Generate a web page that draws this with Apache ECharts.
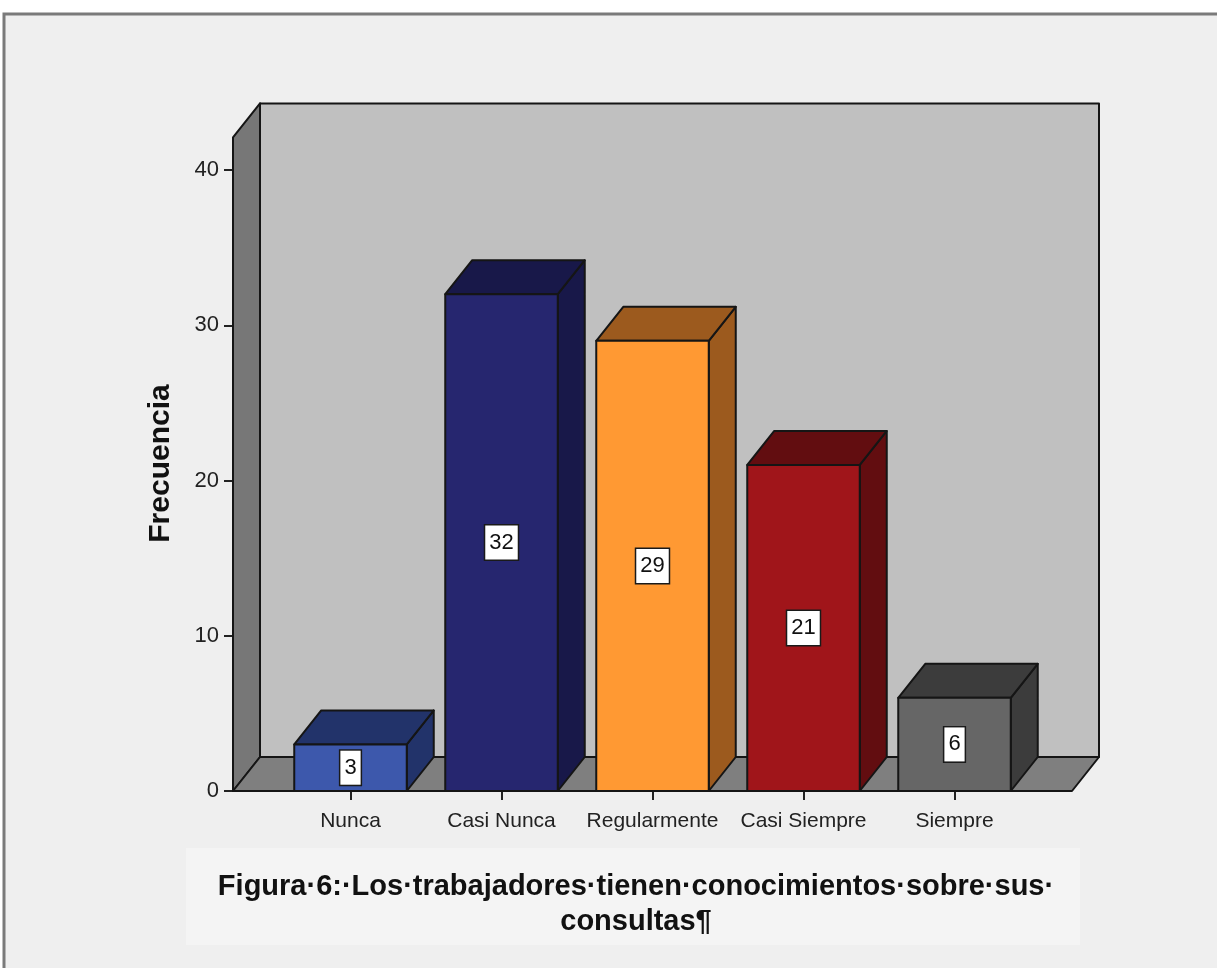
<!DOCTYPE html>
<html>
<head>
<meta charset="utf-8">
<title>Figura 6</title>
<script src="https://cdn.jsdelivr.net/npm/echarts@6/dist/echarts.min.js"></script>
<style>
  html, body { margin: 0; padding: 0; background: #ffffff; }
  #chart { width: 1217px; height: 968px; }
</style>
</head>
<body>
<div id="chart"></div>
<script>
// Answer categories and how many workers chose each one
const categories = ['Nunca', 'Casi Nunca', 'Regularmente', 'Casi Siempre', 'Siempre'];
const frequencies = [3, 32, 29, 21, 6];

// Front-face colour and darker side/top colour for each bar
const faceColors = ['#3D58AC', '#26266F', '#FF9933', '#A0151A', '#666666'];
const shadeColors = ['#22336A', '#181849', '#9C5A1E', '#620D10', '#3C3C3C'];

// Value axis settings
const yMax = 40;
const yStep = 10;
const wallTop = 42.1;          // height of the box walls, in axis units

const captionText = 'Figura·6:·Los·trabajadores·tienen·conocimientos·sobre·sus·\nconsultas¶';

// 3D look: depth offset of the box and bars, in pixels
const DX = 27;
const DY = -34;
const SIDE_MARGIN = 42;        // floor extends this far beyond the category band
const BAR_RATIO = 0.745;
const EDGE = { stroke: '#151515', lineWidth: 2, lineJoin: 'round' };
const FONT = "'Liberation Sans', Arial, sans-serif";

function renderWalls(params, api) {
  const cs = params.coordSys;
  const y0 = api.coord([0, 0])[1];
  const yT = api.coord([0, wallTop])[1];
  const xl = cs.x - SIDE_MARGIN;
  const xr = cs.x + cs.width + SIDE_MARGIN;
  return {
    type: 'group',
    children: [
      { type: 'rect', shape: { x: xl + DX, y: yT + DY, width: xr - xl, height: y0 - yT },
        style: Object.assign({ fill: '#C0C0C0' }, EDGE) },
      { type: 'polygon', shape: { points: [[xl, y0], [xl, yT], [xl + DX, yT + DY], [xl + DX, y0 + DY]] },
        style: Object.assign({ fill: '#777777' }, EDGE) },
      { type: 'polygon', shape: { points: [[xl, y0], [xr, y0], [xr + DX, y0 + DY], [xl + DX, y0 + DY]] },
        style: Object.assign({ fill: '#7F7F7F' }, EDGE) }
    ]
  };
}

function renderBar(params, api) {
  const i = api.value(0);
  const v = api.value(1);
  const top = api.coord([i, v]);
  const base = api.coord([i, 0]);
  const bw = api.size([1, 0])[0] * BAR_RATIO;
  const x0 = top[0] - bw / 2;
  const x1 = top[0] + bw / 2;
  const yT = top[1];
  const yB = base[1];
  return {
    type: 'group',
    children: [
      { type: 'polygon', shape: { points: [[x1, yB], [x1, yT], [x1 + DX, yT + DY], [x1 + DX, yB + DY]] },
        style: Object.assign({ fill: shadeColors[i] }, EDGE) },
      { type: 'polygon', shape: { points: [[x0, yT], [x1, yT], [x1 + DX, yT + DY], [x0 + DX, yT + DY]] },
        style: Object.assign({ fill: shadeColors[i] }, EDGE) },
      { type: 'rect', shape: { x: x0, y: yT, width: bw, height: yB - yT },
        style: Object.assign({ fill: faceColors[i] }, EDGE) },
      { type: 'text', x: top[0], y: (yT + yB) / 2,
        style: {
          text: String(v), fill: '#111111', font: '22px ' + FONT,
          align: 'center', verticalAlign: 'middle',
          backgroundColor: '#ffffff', borderColor: '#1a1a1a', borderWidth: 1.5,
          padding: [6, 4, 6, 4]
        } }
    ]
  };
}

const chart = echarts.init(document.getElementById('chart'), null, { renderer: 'canvas' });

chart.setOption({
  backgroundColor: '#ffffff',
  animation: false,
  title: {
    text: captionText,
    left: 631,
    top: 864,
    textAlign: 'center',
    textStyle: { fontFamily: FONT, fontSize: 29, fontWeight: 'bold', color: '#111111', lineHeight: 35 }
  },
  graphic: [
    { type: 'rect', z: -10, shape: { x: 4, y: 14, width: 1400, height: 1100 },
      style: { fill: '#EFEFEF', stroke: '#7A7A7A', lineWidth: 3 } },
    { type: 'rect', z: -9, shape: { x: 186, y: 848, width: 894, height: 97 },
      style: { fill: '#F4F4F4' } }
  ],
  grid: { left: 275, right: 187, top: 170, bottom: 177, containLabel: false },
  xAxis: {
    type: 'category',
    data: categories,
    axisLine: { show: false },
    axisTick: { show: true, alignWithLabel: true, length: 9, lineStyle: { color: '#222222', width: 2 } },
    axisLabel: { color: '#222222', fontFamily: FONT, fontSize: 21, margin: 20, interval: 0, hideOverlap: false },
    splitLine: { show: false }
  },
  yAxis: {
    type: 'value',
    min: 0,
    max: yMax,
    interval: yStep,
    offset: SIDE_MARGIN,
    name: 'Frecuencia',
    nameLocation: 'middle',
    nameGap: 57,
    nameTextStyle: { fontFamily: FONT, fontSize: 30, fontWeight: 'bold', color: '#111111', padding: [0, 0, 0, 34] },
    axisLine: { show: false },
    axisTick: { show: true, length: 9, lineStyle: { color: '#222222', width: 2 } },
    axisLabel: { color: '#222222', fontFamily: FONT, fontSize: 22, margin: 14 },
    splitLine: { show: false }
  },
  series: [
    {
      type: 'custom',
      name: 'walls',
      renderItem: renderWalls,
      data: [[0, 0]],
      encode: { x: 0, y: 1 },
      silent: true,
      z: 1
    },
    {
      type: 'custom',
      name: 'Frecuencia',
      renderItem: renderBar,
      data: frequencies.map((v, i) => [i, v]),
      encode: { x: 0, y: 1 },
      z: 3
    }
  ]
});
</script>
</body>
</html>
